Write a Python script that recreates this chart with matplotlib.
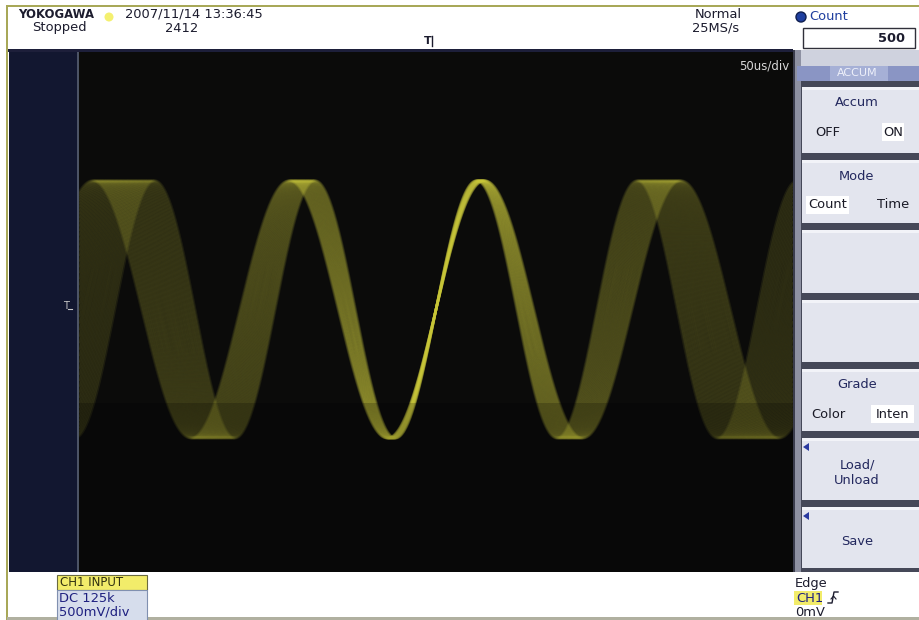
import matplotlib
matplotlib.use("Agg")
import matplotlib.pyplot as plt
import numpy as np
from matplotlib.patches import Rectangle, Circle, Polygon

time_div_us = 50            # 50us/div, 10 divisions
volt_div_mV = 500           # 500mV/div, 8 divisions
amplitude_mV = 990
offset_mV = 20
# periods of the accumulated sweeps (jitter band), in microseconds
sweep_periods_us = [112.5, 113.0, 113.5, 114.0, 114.5, 115.0, 115.5, 116.0,
                    116.5, 117.0, 117.5, 118.0, 118.5, 119.0, 119.5, 120.0,
                    120.5, 121.0, 121.5, 122.0, 122.5, 123.0, 123.5, 124.0,
                    124.5, 125.0, 125.5, 126.0, 126.5, 127.0, 127.5, 128.0,
                    128.5, 129.0, 129.5, 130.0, 130.5, 131.0, 131.5, 132.0,
                    132.5, 133.0, 133.5, 134.0, 134.5, 135.0, 135.5, 136.0,
                    136.5, 137.0, 137.5]

header_left = ["YOKOGAWA", "Stopped"]
header_date = "2007/11/14 13:36:45"
header_count = "2412"
header_mode = ["Normal", "25MS/s"]
acc_count = "500"
menu_titles = ["Accum", "Mode", "", "", "Grade", "Load/\nUnload", "Save"]
menu_options = [("OFF", "ON"), ("Count", "Time"), None, None, ("Color", "Inten"), None, None]
menu_selected = [1, 0, None, None, 1, None, None]

W, H = 920, 620
fig = plt.figure(figsize=(9.2, 6.2), dpi=100)
fig.patch.set_facecolor("white")
bg = fig.add_axes([0, 0, 1, 1])
bg.set_xlim(0, W)
bg.set_ylim(H, 0)
bg.axis("off")

FONT = "DejaVu Sans"
TXT = "#1c1c2e"
FS = 9.4


def rect(x0, y0, x1, y1, fc, ec="none", lw=0, z=1, alpha=1):
    bg.add_patch(Rectangle((x0, y0), x1 - x0, y1 - y0, facecolor=fc,
                           edgecolor=ec, linewidth=lw, zorder=z, alpha=alpha))


# outer frame
rect(0, 0, W, H, "white", z=0)
rect(7, 5, W, 7, "#a8a858", z=1)
rect(6, 5, 8, H, "#a8a858", z=1)
# dark screen area (left strip + plot)
rect(9, 50, 793, 572, "#0b0b0a", z=1)
rect(9, 50, 78, 572, "#121730", z=1)
rect(77.5, 52, 79, 572, "#4c5466", z=2)
rect(8, 49, 793, 52, "#1d1f3a", z=2)
# bottom line
rect(7, 617, W, 620, "#b0b0a0", z=1)

# header text
bg.text(18, 14, header_left[0], fontsize=8.4, fontweight="bold", color=TXT,
        family=FONT, va="center", ha="left")
bg.add_patch(Circle((109, 17), 4.5, facecolor="#f4f070", edgecolor="none", zorder=3))
bg.text(125, 14, header_date, fontsize=FS, color=TXT, family=FONT, va="center")
bg.text(32, 28, header_left[1], fontsize=FS, color=TXT, family=FONT, va="center")
bg.text(165, 28, header_count, fontsize=FS, color=TXT, family=FONT, va="center")
bg.text(695, 14, header_mode[0], fontsize=FS, color=TXT, family=FONT, va="center")
bg.text(692, 28, header_mode[1], fontsize=FS, color=TXT, family=FONT, va="center")
# trigger position marker
bg.text(428, 41, "T", fontsize=8, fontweight="bold", color=TXT, family=FONT,
        va="center", ha="center")
bg.plot([432, 432], [36, 46], color=TXT, lw=1, zorder=3)

# right-hand menu panel
rect(793, 50, W, 572, "#cfd2de", z=1)
rect(793, 50, 801, 572, "#8e91a2", z=2)
rect(793, 50, 795, 572, "#3a3c4c", z=3)
# Count area in header
bg.add_patch(Circle((801, 17), 5, facecolor="#1f3f9f", edgecolor="#10204f", zorder=3))
bg.text(809, 17, "Count", fontsize=FS, color="#1f3f9f", family=FONT, va="center")
rect(803, 28, 915, 48, "white", ec="#30303a", lw=1.0, z=3)
bg.text(905, 38, acc_count, fontsize=FS, fontweight="bold", color=TXT,
        family=FONT, va="center", ha="right", zorder=4)
# ACCUM bar
rect(797, 66, W, 81, "#8a95c4", z=3)
rect(830, 66, 888, 81, "#a6b0d6", z=3)
bg.text(857, 73.5, "ACCUM", fontsize=8, color="#eef0fa", family=FONT,
        va="center", ha="center", zorder=4)

buttons = [(87, 153), (160, 223), (230, 293), (300, 362), (369, 431),
           (438, 500), (507, 568)]
rect(801, 81, W, 572, "#454858", z=2)
for i, (y0, y1) in enumerate(buttons):
    rect(802, y0, W, y1, "#e3e5ee", z=3)
    rect(802, y0, W, y0 + 3, "#f2f3f8", z=3)
    title = menu_titles[i]
    opts = menu_options[i]
    if opts is not None:
        bg.text(857, y0 + 16, title, fontsize=FS, color="#23285e",
                family=FONT, va="center", ha="center", zorder=5)
        ym = y0 + 45
        sel = menu_selected[i]
        xs = [828, 893]
        for k, o in enumerate(opts):
            if sel == k:
                tw = len(o) * 7.0 + 8
                rect(xs[k] - tw / 2, ym - 9, xs[k] + tw / 2, ym + 9, "white", z=4)
            bg.text(xs[k], ym, o, fontsize=FS, color="#1a1a26", family=FONT,
                    va="center", ha="center", zorder=5)
    elif title:
        bg.add_patch(Polygon([[803, y0 + 9], [809, y0 + 5], [809, y0 + 13]],
                             closed=True, facecolor="#2a3aa0", edgecolor="none",
                             zorder=5))
        bg.text(857, (y0 + y1) / 2 + 4, title, fontsize=FS, color="#23285e",
                family=FONT, va="center", ha="center", zorder=5,
                linespacing=1.2)

# bottom status bar
rect(57, 575, 147, 590, "#f2ec6a", ec="#6a6a40", lw=0.8, z=3)
bg.text(60, 583, "CH1 INPUT", fontsize=8.5, color="#303010", family=FONT,
        va="center", zorder=4)
rect(57, 590, 147, 621, "#d6ddec", ec="#8090b0", lw=0.8, z=3)
bg.text(59, 598.5, "DC 125k", fontsize=FS, color="#1e2080", family=FONT,
        va="center", zorder=4)
bg.text(59, 612, "500mV/div", fontsize=FS, color="#1e2080", family=FONT,
        va="center", zorder=4)
bg.text(795, 583, "Edge", fontsize=FS, color=TXT, family=FONT, va="center", zorder=4)
rect(794, 591, 822, 605, "#f2ec6a", z=3)
bg.text(796, 598, "CH1", fontsize=FS, color="#1e2080", family=FONT,
        va="center", zorder=4)
bg.plot([828, 832, 834, 838], [603, 603, 592, 592], color=TXT, lw=1.0, zorder=4)
bg.plot([831, 833.5, 836], [599, 596, 599], color=TXT, lw=0.8, zorder=4)
bg.text(795, 613, "0mV", fontsize=FS, color=TXT, family=FONT, va="center", zorder=4)

# ground marker on the left strip
bg.text(66, 306, "T", fontsize=7, color="#c8c8c8", family=FONT, va="center",
        ha="center", zorder=4)
bg.plot([68, 72], [309, 309], color="#c8c8c8", lw=0.8, zorder=4)

# ---------------- waveform axes ----------------
x0p, x1p, y0p, y1p = 79, 793, 52, 572
ax = fig.add_axes([x0p / W, 1 - y1p / H, (x1p - x0p) / W, (y1p - y0p) / H])
ax.set_facecolor("#0b0b0a")
ax.set_xlim(-5 * time_div_us, 5 * time_div_us)
ax.set_ylim(-4 * volt_div_mV, 4 * volt_div_mV)
ax.set_xticks([])
ax.set_yticks([])
for s in ax.spines.values():
    s.set_visible(False)

t = np.linspace(-5 * time_div_us, 5 * time_div_us, 3000)
for P in sweep_periods_us:
    v = offset_mV + amplitude_mV * np.sin(2 * np.pi * t / P)
    ax.plot(t, v, color="#d2d042", lw=2.0, alpha=0.09, solid_capstyle="round")

# slight dimming of the lower part of the display (as in the capture)
ax.add_patch(Rectangle((-250, -2000), 500, 1300, facecolor="black",
                       edgecolor="none", alpha=0.2, zorder=5))

ax.text(0.995, 0.985, "50us/div", transform=ax.transAxes, fontsize=8.5,
        color="#d8d8d8", family=FONT, ha="right", va="top")

fig.savefig("out.png", dpi=100, facecolor="white")
